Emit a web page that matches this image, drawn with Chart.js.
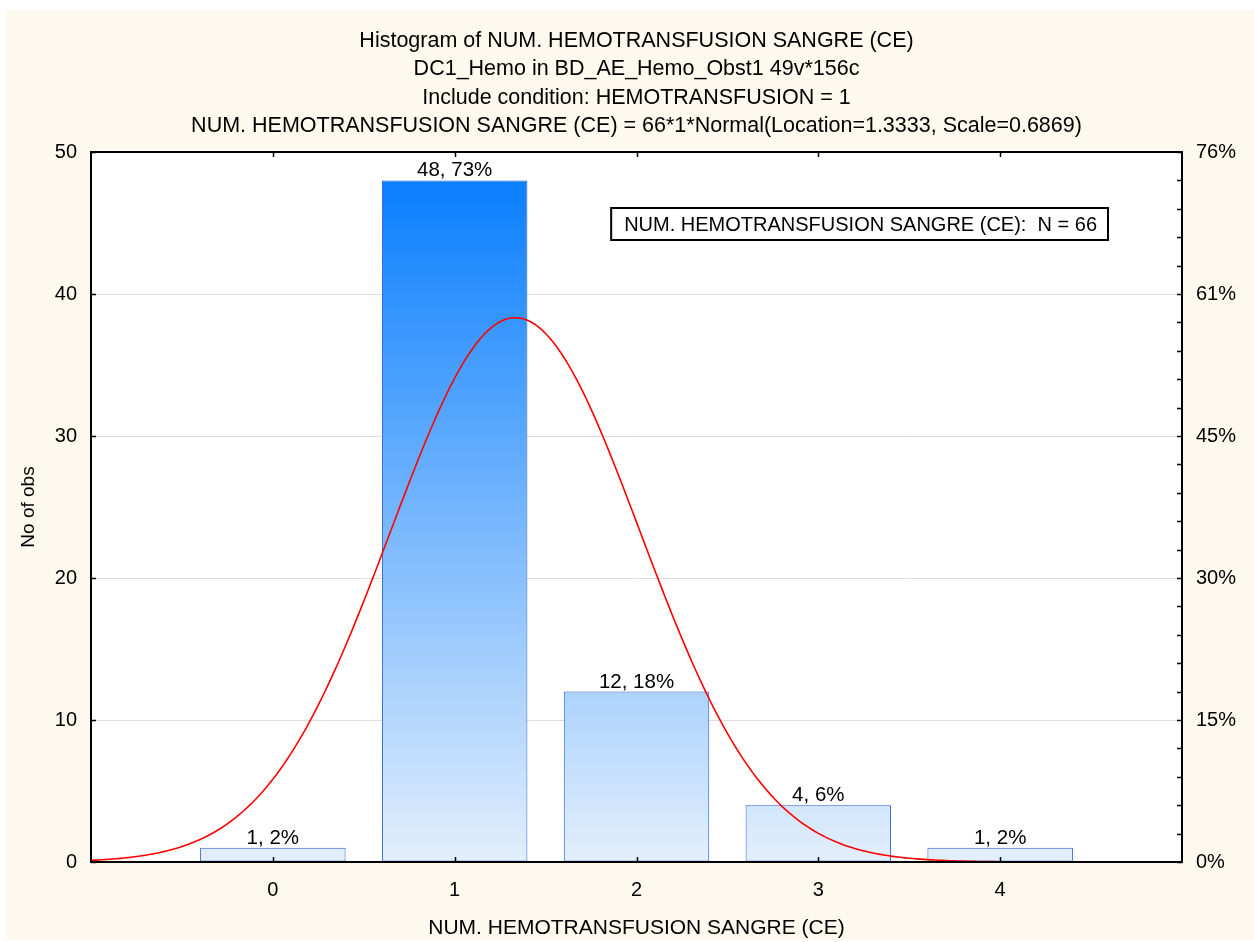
<!DOCTYPE html>
<html>
<head>
<meta charset="utf-8">
<title>Histogram of NUM. HEMOTRANSFUSION SANGRE (CE)</title>
<script src="https://cdn.jsdelivr.net/npm/chart.js@4.4.1/dist/chart.umd.min.js"></script>
<style>
  html, body { margin: 0; padding: 0; background: #ffffff; }
  canvas { display: block; }
</style>
</head>
<body>
<canvas id="histo" width="1254" height="942"></canvas>
<script>
// ---- data ----
const categories = [0, 1, 2, 3, 4];
const counts = [1, 48, 12, 4, 1];
const totalN = 66;
// fitted normal curve parameters (as stated in the subtitle)
const fitLocation = 1.3333;
const fitScale = 0.6869;
const binWidth = 1;
const countTicks = [0, 10, 20, 30, 40, 50];
const titleLines = [
  'Histogram of NUM. HEMOTRANSFUSION SANGRE (CE)',
  'DC1_Hemo in BD_AE_Hemo_Obst1 49v*156c',
  'Include condition: HEMOTRANSFUSION = 1',
  'NUM. HEMOTRANSFUSION SANGRE (CE) = 66*1*Normal(Location=1.3333, Scale=0.6869)'
];
const xAxisTitle = 'NUM. HEMOTRANSFUSION SANGRE (CE)';
const yAxisTitle = 'No of obs';
const legendText = 'NUM. HEMOTRANSFUSION SANGRE (CE):  N = 66';

const FONT = '"Liberation Sans", Arial, Helvetica, sans-serif';
const TITLE_SIZE = 21.5;
const TICK_SIZE = 20;
const LABEL_SIZE = 20.5;

const pct = v => Math.round(v / totalN * 100);

// expected counts of the fitted normal, sampled across the x range
const curvePoints = [];
for (let i = 0; i <= 300; i++) {
  const x = -1 + i * 0.02;
  const z = (x - fitLocation) / fitScale;
  const y = totalN * binWidth * Math.exp(-0.5 * z * z) / (fitScale * Math.sqrt(2 * Math.PI));
  curvePoints.push({ x, y });
}

const barPoints = categories.map((c, i) => ({ x: c, y: counts[i] }));

function barGradient(context) {
  const chart = context.chart;
  const a = chart.chartArea;
  if (!a) return '#8cc2fa';
  const ys = chart.scales.y;
  const g = chart.ctx.createLinearGradient(0, ys.getPixelForValue(48), 0, ys.getPixelForValue(0));
  g.addColorStop(0, '#0a7ffe');
  g.addColorStop(1, '#e3effc');
  return g;
}

const decor = {
  id: 'decor',
  beforeDraw(chart) {
    const { ctx, chartArea: a } = chart;
    ctx.save();
    ctx.fillStyle = '#ffffff';
    ctx.fillRect(0, 0, chart.width, chart.height);
    ctx.fillStyle = '#fdf9ee';
    ctx.fillRect(6, 10, chart.width - 6, 930);
    ctx.fillStyle = '#ffffff';
    ctx.fillRect(a.left, a.top, a.right - a.left, a.bottom - a.top);
    ctx.restore();
  },
  afterDatasetsDraw(chart) {
    const { ctx } = chart;
    const meta = chart.getDatasetMeta(0);
    ctx.save();
    ctx.font = LABEL_SIZE + 'px ' + FONT;
    ctx.fillStyle = '#000';
    ctx.textAlign = 'center';
    ctx.textBaseline = 'alphabetic';
    meta.data.forEach((bar, i) => {
      ctx.fillText(counts[i] + ', ' + pct(counts[i]) + '%', bar.x, bar.y - 4);
    });
    ctx.restore();
  },
  afterDraw(chart) {
    const { ctx, chartArea: a } = chart;
    const xs = chart.scales.x, ys = chart.scales.y;
    ctx.save();
    // inward tick marks
    ctx.strokeStyle = '#000';
    ctx.lineWidth = 1.5;
    ctx.beginPath();
    categories.forEach(v => {
      const px = Math.round(xs.getPixelForValue(v)) + 0.5;
      ctx.moveTo(px, a.bottom); ctx.lineTo(px, a.bottom - 5);
      ctx.moveTo(px, a.top); ctx.lineTo(px, a.top + 5);
    });
    countTicks.forEach(v => {
      const py = Math.round(ys.getPixelForValue(v)) + 0.5;
      ctx.moveTo(a.left, py); ctx.lineTo(a.left + 5, py);
    });
    for (let v = 0; v <= 50; v += 2) {
      const py = Math.round(ys.getPixelForValue(v)) + 0.5;
      ctx.moveTo(a.right, py); ctx.lineTo(a.right - 5, py);
    }
    ctx.stroke();
    // plot frame
    ctx.lineWidth = 2;
    ctx.strokeRect(a.left, a.top, a.right - a.left, a.bottom - a.top);

    // title lines
    ctx.font = TITLE_SIZE + 'px ' + FONT;
    ctx.fillStyle = '#000';
    ctx.textAlign = 'center';
    ctx.textBaseline = 'middle';
    const cx = (a.left + a.right) / 2;
    titleLines.forEach((t, i) => ctx.fillText(t, cx, 41 + i * 28.4));

    // legend box
    ctx.font = TICK_SIZE + 'px ' + FONT;
    const tw = ctx.measureText(legendText).width;
    const bw = tw + 24, bh = 32;
    const bx = a.right - 74 - bw, by = a.top + 56;
    ctx.fillStyle = '#ffffff';
    ctx.fillRect(bx, by, bw, bh);
    ctx.lineWidth = 2;
    ctx.strokeRect(bx, by, bw, bh);
    ctx.fillStyle = '#000';
    ctx.textAlign = 'left';
    ctx.fillText(legendText, bx + 13, by + bh / 2 + 1);
    ctx.restore();
  }
};

new Chart(document.getElementById('histo'), {
  type: 'bar',
  data: {
    datasets: [
      {
        type: 'bar',
        data: barPoints,
        backgroundColor: barGradient,
        borderColor: '#2a5fd0',
        borderWidth: 1,
        borderSkipped: false,
        categoryPercentage: 0.8,
        barPercentage: 1.0,
        order: 1
      },
      {
        type: 'line',
        data: curvePoints,
        borderColor: '#ff0000',
        borderWidth: 1.6,
        pointRadius: 0,
        tension: 0,
        fill: false,
        order: 0
      }
    ]
  },
  options: {
    responsive: false,
    animation: false,
    devicePixelRatio: 1,
    layout: { padding: { top: 152, left: 0, right: 0, bottom: 0 } },
    plugins: {
      legend: { display: false },
      title: { display: false },
      tooltip: { enabled: false }
    },
    scales: {
      x: {
        type: 'linear',
        min: -1,
        max: 5,
        offset: false,
        grid: { display: false, offset: false },
        border: { display: false },
        ticks: {
          stepSize: 1,
          padding: 8,
          color: '#000',
          font: { family: FONT, size: TICK_SIZE },
          maxRotation: 0
        },
        afterBuildTicks(scale) {
          scale.ticks = categories.map(v => ({ value: v }));
        },
        afterFit(scale) { scale.height = 80; },
        title: {
          display: true,
          text: xAxisTitle,
          color: '#000',
          font: { family: FONT, size: 21 },
          padding: { top: 0, bottom: 1 }
        }
      },
      y: {
        position: 'left',
        min: 0,
        max: 50,
        grid: { color: '#dcdcdc', lineWidth: 1, drawTicks: false },
        border: { display: false },
        ticks: {
          stepSize: 10,
          padding: 14,
          color: '#000',
          font: { family: FONT, size: TICK_SIZE }
        },
        afterBuildTicks(scale) {
          scale.ticks = countTicks.map(v => ({ value: v }));
        },
        afterFit(scale) { scale.width = 91; },
        title: {
          display: true,
          text: yAxisTitle,
          color: '#000',
          font: { family: FONT, size: 19 },
          padding: { top: 17, bottom: 0 }
        }
      },
      y2: {
        position: 'right',
        min: 0,
        max: 50,
        grid: { display: false, drawTicks: false },
        border: { display: false },
        ticks: {
          stepSize: 10,
          padding: 14,
          color: '#000',
          font: { family: FONT, size: TICK_SIZE },
          callback: v => pct(v) + '%'
        },
        afterBuildTicks(scale) {
          scale.ticks = countTicks.map(v => ({ value: v }));
        },
        afterFit(scale) { scale.width = 72; }
      }
    }
  },
  plugins: [decor]
});
</script>
</body>
</html>
